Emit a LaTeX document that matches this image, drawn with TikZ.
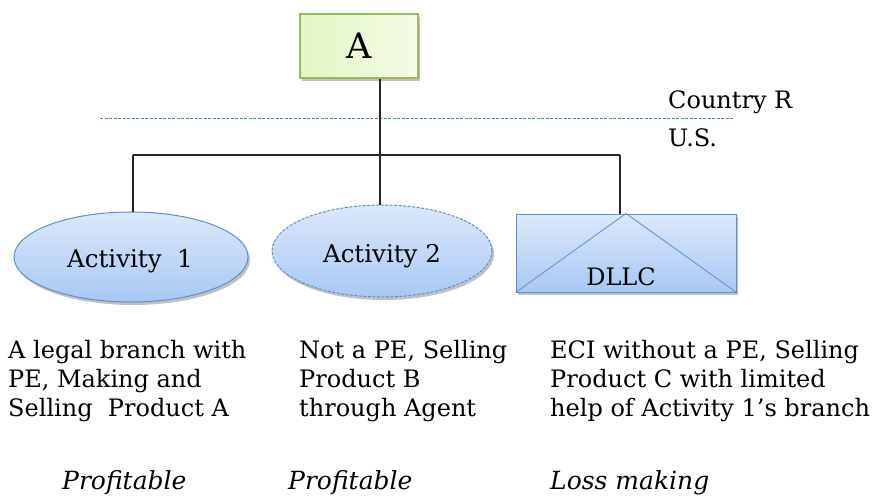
\documentclass[tikz,border=0pt]{standalone}
\usepackage{fontspec}
\setmainfont{DejaVu Serif}
\usetikzlibrary{shapes.geometric,shadows}
\definecolor{gbord}{HTML}{9BBB59}
\definecolor{gtop}{HTML}{E2F6C4}
\definecolor{gbot}{HTML}{F4FCE6}
\definecolor{bbord}{HTML}{5B8FD0}
\definecolor{btop}{HTML}{DCE8FB}
\definecolor{bbot}{HTML}{A8C8F4}
\definecolor{dline}{HTML}{4A7EC4}
\tikzset{
  shad/.style={drop shadow={shadow xshift=2pt,shadow yshift=-3pt,opacity=0.35,fill=black!70}},
  bluefill/.style={top color=btop,bottom color=bbot,draw=bbord,line width=1pt},
  ell/.style={ellipse,bluefill,shad,inner sep=0pt},
  body/.style={anchor=base west,inner sep=0pt,font=\fontsize{24}{28}\selectfont},
  itbody/.style={body,font=\fontsize{25}{28}\selectfont\itshape},
  conn/.style={line width=1.2pt,black!85},
}
\begin{document}
\begin{tikzpicture}[x=1pt,y=-1pt]
\useasboundingbox (0,0) rectangle (881,498);
% top box
\node[draw=gbord,line width=1.5pt,left color=gtop,right color=gbot,shad,minimum width=118pt,minimum height=64pt,inner sep=0pt,font=\fontsize{35}{38}\selectfont] (A) at (359,46) {A};
% dashed border line
\coordinate (dl) at (100,118);
\coordinate (dr) at (733,118);
\draw[dline,dashed,dash pattern=on 3pt off 1.5pt,line width=0.7pt] (dl) -- (dr);
\node[body] (cr) at (668,108) {Country R};
\node[body] (us) at (668,146) {U.S.};
% children
\node[ell,minimum width=234pt,minimum height=90pt] (a1) at (131,257) {};
\node[body,anchor=base,font=\fontsize{24.5}{28}\selectfont] (a1t) at (130,267) {Activity\ \ 1};
\node[ell,dashed,dash pattern=on 3pt off 1.5pt,minimum width=220pt,minimum height=92pt] (a2) at (382,251) {};
\node[body,anchor=base,font=\fontsize{24.5}{28}\selectfont] (a2t) at (382,262) {Activity 2};
\node[rectangle,bluefill,shad,minimum width=220pt,minimum height=78pt,inner sep=0pt] (d) at (626,253) {};
\draw[bbord,line width=0.8pt] (d.south west) -- (d.north) -- (d.south east);
\node[body,anchor=base] (dt) at (621,285) {DLLC};
% connectors
\coordinate (h) at (380,155);
\coordinate (h1) at (133,155);
\coordinate (h3) at (620,155);
\draw[conn] (A.south -| h) -- (h);
\draw[conn] (h1) -- (h3);
\draw[conn] (h1) -- (a1.north -| h1);
\draw[conn] (h) -- (a2.north -| h);
\draw[conn] (h3) -- (d.north -| h3);
% texts
\node[body] (t11) at (8,358) {A legal branch with};
\node[body] (t12) at (8,387) {PE, Making and};
\node[body] (t13) at (8,416) {Selling\ \ Product A};
\node[body] (t21) at (299,358) {Not a PE, Selling};
\node[body] (t22) at (299,387) {Product B};
\node[body] (t23) at (299,416) {through Agent};
\node[body] (t31) at (550,358) {ECI without a PE, Selling};
\node[body] (t32) at (550,387) {Product C with limited};
\node[body] (t33) at (550,416) {help of Activity 1’s branch};
\node[itbody] (p1) at (62,489) {Profitable};
\node[itbody] (p2) at (288,489) {Profitable};
\node[itbody] (p3) at (550,489) {Loss making};
\end{tikzpicture}
\end{document}
